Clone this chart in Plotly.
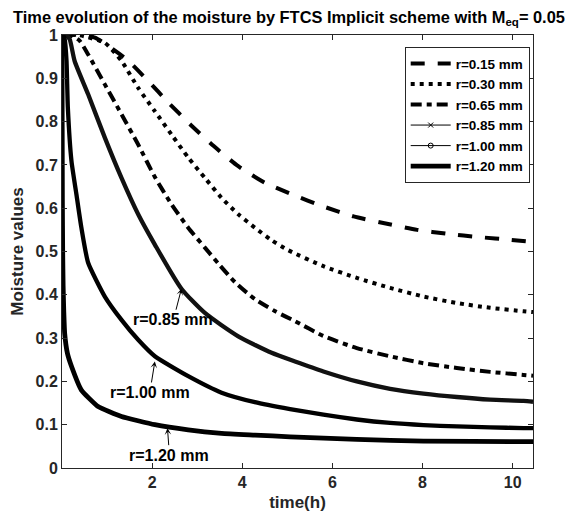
import plotly.graph_objects as go

# ---- data ----
t_015 = [0, 0.45, 0.73, 1.43, 1.91, 2.36, 2.84, 3.36, 3.91, 4.50, 5.10, 5.80, 6.47, 7.21, 7.88, 8.54, 9.28, 9.95, 10.45]
m_015 = [1.0, 1.0, 0.994, 0.944, 0.894, 0.844, 0.794, 0.744, 0.697, 0.659, 0.632, 0.604, 0.581, 0.564, 0.550, 0.541, 0.533, 0.527, 0.522]

t_030 = [0, 0.35, 0.57, 0.95, 1.32, 1.69, 2.06, 2.43, 2.80, 3.17, 3.54, 3.91, 4.28, 4.65, 5.02, 5.80, 6.54, 7.28, 8.02, 8.76, 9.50, 10.24, 10.45]
m_030 = [1.0, 1.0, 0.995, 0.982, 0.94, 0.878, 0.824, 0.770, 0.717, 0.670, 0.624, 0.586, 0.555, 0.526, 0.503, 0.466, 0.439, 0.416, 0.396, 0.381, 0.370, 0.362, 0.360]

t_065 = [0, 0.21, 0.39, 0.58, 0.95, 1.32, 1.69, 2.06, 2.43, 2.80, 3.17, 3.47, 3.84, 4.28, 4.73, 5.17, 5.80, 6.54, 7.28, 8.02, 8.76, 9.50, 10.24, 10.45]
m_065 = [1.0, 0.998, 0.987, 0.955, 0.886, 0.817, 0.747, 0.672, 0.609, 0.555, 0.509, 0.472, 0.429, 0.390, 0.362, 0.339, 0.305, 0.277, 0.258, 0.242, 0.231, 0.222, 0.215, 0.213]

t_085 = [0, 0.10, 0.17, 0.28, 0.58, 0.95, 1.32, 1.69, 2.06, 2.65, 3.17, 3.91, 4.65, 5.17, 5.80, 6.54, 7.28, 8.02, 8.76, 9.50, 10.24, 10.45]
m_085 = [1.0, 0.998, 0.990, 0.94, 0.863, 0.763, 0.670, 0.586, 0.516, 0.414, 0.358, 0.304, 0.266, 0.246, 0.223, 0.200, 0.183, 0.172, 0.164, 0.158, 0.155, 0.153]

t_100 = [0, 0.03, 0.06, 0.10, 0.13, 0.21, 0.32, 0.43, 0.58, 0.95, 1.32, 1.69, 2.06, 2.80, 3.54, 4.28, 5.06, 5.80, 6.54, 7.28, 8.02, 8.76, 9.50, 10.24, 10.45]
m_100 = [1.0, 0.998, 0.99, 0.94, 0.832, 0.709, 0.632, 0.555, 0.474, 0.396, 0.342, 0.296, 0.258, 0.212, 0.174, 0.152, 0.136, 0.123, 0.112, 0.104, 0.099, 0.096, 0.094, 0.092, 0.092]

t_120 = [0, 0.004, 0.008, 0.015, 0.025, 0.04, 0.06, 0.12, 0.21, 0.43, 0.80, 1.32, 2.06, 2.80, 3.54, 4.28, 5.06, 6.54, 8.02, 10.24, 10.45]
m_120 = [1.0, 0.80, 0.62, 0.50, 0.42, 0.36, 0.31, 0.265, 0.235, 0.180, 0.142, 0.119, 0.100, 0.088, 0.080, 0.076, 0.072, 0.066, 0.062, 0.061, 0.061]

labels = ["r=0.15 mm", "r=0.30 mm", "r=0.65 mm", "r=0.85 mm", "r=1.00 mm", "r=1.20 mm"]

x_ticks = [2, 4, 6, 8, 10]
y_ticks = [0, 0.1, 0.2, 0.3, 0.4, 0.5, 0.6, 0.7, 0.8, 0.9, 1]
y_tick_text = ["0", "0.1", "0.2", "0.3", "0.4", "0.5", "0.6", "0.7", "0.8", "0.9", "1"]

FONT = "Liberation Sans, Arial, Helvetica, sans-serif"
AX = "#262626"

fig = go.Figure()

# r = 0.15 (long dashes)
fig.add_trace(go.Scatter(x=t_015, y=m_015, mode="lines", name=labels[0],
                         line=dict(color="black", width=4, dash="14px,13px", shape="spline", smoothing=0.6)))
# r = 0.30 (dots)
fig.add_trace(go.Scatter(x=t_030, y=m_030, mode="lines", name=labels[1],
                         line=dict(color="black", width=4, dash="4px,5px", shape="spline", smoothing=0.6)))
# r = 0.65 (dash-dot)
fig.add_trace(go.Scatter(x=t_065, y=m_065, mode="lines", name=labels[2],
                         line=dict(color="black", width=4, dash="11px,5px,5px,5px", shape="spline", smoothing=0.6)))
# r = 0.85 (line with dense x markers -> thick dark line)
fig.add_trace(go.Scatter(x=t_085, y=m_085, mode="lines", showlegend=False,
                         line=dict(color="#111111", width=4.3, shape="spline", smoothing=0.6)))
fig.add_trace(go.Scatter(x=[None], y=[None], mode="lines+markers", name=labels[3],
                         line=dict(color="black", width=1),
                         marker=dict(symbol="x-thin-open", size=5, color="black", line=dict(width=1, color="black"))))
# r = 1.00 (line with dense o markers -> thick line)
fig.add_trace(go.Scatter(x=t_100, y=m_100, mode="lines", showlegend=False,
                         line=dict(color="black", width=4.3, shape="spline", smoothing=0.5)))
fig.add_trace(go.Scatter(x=[None], y=[None], mode="lines+markers", name=labels[4],
                         line=dict(color="black", width=1),
                         marker=dict(symbol="circle-open", size=5, color="black", line=dict(width=1, color="black"))))
# r = 1.20 (thick solid)
fig.add_trace(go.Scatter(x=t_120, y=m_120, mode="lines", name=labels[5],
                         line=dict(color="black", width=4.8, shape="spline", smoothing=0.4)))

ann_font = dict(family=FONT, size=16, color="black", weight="bold")
for tip_x, tip_y, ax, ay, txt in [
    (2.65, 0.414, -8, 31, labels[3]),
    (2.06, 0.246, -5, 31, labels[4]),
    (2.34, 0.092, 2, 27, labels[5]),
]:
    fig.add_annotation(x=tip_x, y=tip_y, ax=ax, ay=ay, text=txt, showarrow=True,
                       arrowhead=3, arrowsize=1.1, arrowwidth=1, arrowcolor="black",
                       standoff=0, font=ann_font)

axis_common = dict(showline=True, linecolor=AX, linewidth=1, mirror="ticks",
                   ticks="inside", ticklen=5, tickcolor=AX, showgrid=False, zeroline=False,
                   tickfont=dict(family=FONT, size=16, color=AX, weight="bold"))

fig.update_xaxes(range=[0, 10.45], tickvals=x_ticks,
                 title=dict(text="time(h)", font=dict(family=FONT, size=17, color=AX, weight="bold"), standoff=5),
                 automargin=False, **axis_common)
fig.update_yaxes(range=[0, 1], tickvals=y_ticks, ticktext=y_tick_text,
                 title=dict(text="Moisture values", font=dict(family=FONT, size=17, color=AX, weight="bold"), standoff=8),
                 automargin=False, **axis_common)

# the page adds an 8px body margin, so margins are offset to place the plot like the reference
fig.update_layout(
    width=577, height=517,
    paper_bgcolor="white", plot_bgcolor="white",
    margin=dict(l=54, r=52, t=27, b=57),
    title=dict(text="Time evolution of the moisture by FTCS Implicit scheme with M<sub>eq</sub>= 0.05",
               x=0.487, xanchor="center", y=0.982, yanchor="middle",
               font=dict(family=FONT, size=16.4, color="black", weight="bold")),
    legend=dict(x=0.993, y=0.972, xanchor="right", yanchor="top",
                bgcolor="white", bordercolor=AX, borderwidth=1,
                font=dict(family=FONT, size=13.5, color="black", weight="bold"),
                tracegroupgap=0, itemwidth=40),
    showlegend=True,
)

fig.write_html("out.html")
